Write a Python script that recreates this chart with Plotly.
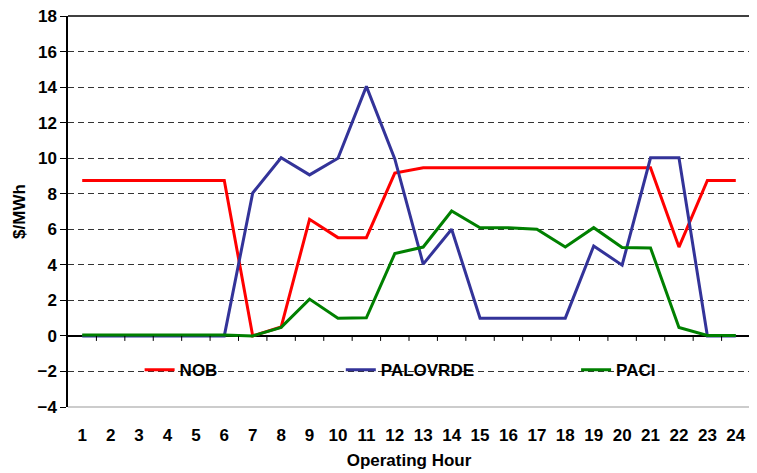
import plotly.graph_objects as go

hours = list(range(1, 25))
nob = [8.75, 8.75, 8.75, 8.75, 8.75, 8.75, 0, 0.5, 6.56, 5.53, 5.53, 9.16,
       9.46, 9.46, 9.46, 9.46, 9.46, 9.46, 9.46, 9.46, 9.46, 5.0, 8.75, 8.75]
palovrde = [0, 0, 0, 0, 0, 0, 8.04, 10.02, 9.06, 10.0, 14.04, 9.96,
            4.04, 6.0, 1.0, 1.0, 1.0, 1.0, 5.06, 3.98, 10.02, 10.02, 0, 0]
paci = [0.05, 0.05, 0.05, 0.05, 0.05, 0.05, 0.0, 0.48, 2.07, 1.0, 1.02, 4.63,
        5.0, 7.03, 6.09, 6.09, 6.0, 5.0, 6.09, 4.97, 4.95, 0.47, 0.03, 0.03]
y_ticks = list(range(-4, 19, 2))

FONT = "Liberation Sans, Arial, sans-serif"

fig = go.Figure()
series = [("NOB", nob, "#FF0000", "legend"),
          ("PALOVRDE", palovrde, "#333399", "legend2"),
          ("PACI", paci, "#008000", "legend3")]
for name, vals, color, lg in series:
    fig.add_trace(go.Scatter(x=hours, y=vals, mode="lines", name=name,
                             line=dict(color=color, width=3), legend=lg,
                             showlegend=True))

shapes = []
# white background behind legend
shapes.append(dict(type="rect", xref="paper", yref="y", x0=0.035, x1=0.978,
                   y0=-2.7, y1=-1.3, fillcolor="white", line=dict(width=0),
                   layer="between"))
# bottom light border
shapes.append(dict(type="line", xref="paper", yref="paper", x0=0, x1=1, y0=0, y1=0,
                   line=dict(color="#999999", width=1), layer="below"))
# top border
shapes.append(dict(type="line", xref="paper", yref="paper", x0=0, x1=1, y0=1, y1=1,
                   line=dict(color="black", width=1.3)))
# category tick marks on the zero line
for h in hours[:-1]:
    shapes.append(dict(type="line", xref="x", yref="y", ysizemode="pixel", yanchor=0,
                       x0=h + 0.5, x1=h + 0.5, y0=0, y1=-5,
                       line=dict(color="black", width=1)))

legfont = dict(family=FONT, size=17, color="black", weight="bold")

def leg(x):
    return dict(x=x, y=0.094, xanchor="left", yanchor="middle", orientation="h",
                bgcolor="rgba(0,0,0,0)", font=legfont)

fig.update_layout(
    width=757, height=473,
    margin=dict(l=60, r=15, t=8, b=74),
    paper_bgcolor="white", plot_bgcolor="white",
    font=dict(family=FONT, color="black"),
    shapes=shapes,
    showlegend=True,
    legend=leg(0.105),
    legend2=leg(0.400),
    legend3=leg(0.745),
    xaxis=dict(range=[0.5, 24.5], tickmode="array", tickvals=hours,
               ticktext=[str(h) for h in hours], showgrid=False, zeroline=False,
               showline=False, ticks="", ticklabelstandoff=16, automargin=False,
               tickfont=dict(family=FONT, size=17, color="black", weight="bold"),
               title=dict(text="Operating Hour", standoff=10,
                          font=dict(family=FONT, size=17, color="black", weight="bold"))),
    yaxis=dict(range=[-4, 18], tickmode="array", tickvals=y_ticks, automargin=False,
               ticklabeloverflow="allow",
               showgrid=True, gridcolor="#333333", gridwidth=1, griddash="6px,4px",
               zeroline=True, zerolinecolor="black", zerolinewidth=1.5,
               showline=True, linecolor="black", linewidth=1.5, mirror=True,
               ticks="outside", ticklen=6, tickcolor="black",
               tickfont=dict(family=FONT, size=17, color="black", weight="bold"),
               title=dict(text="$/MWh", standoff=8,
                          font=dict(family=FONT, size=17, color="black", weight="bold"))),
)

fig.write_html("out.html")
